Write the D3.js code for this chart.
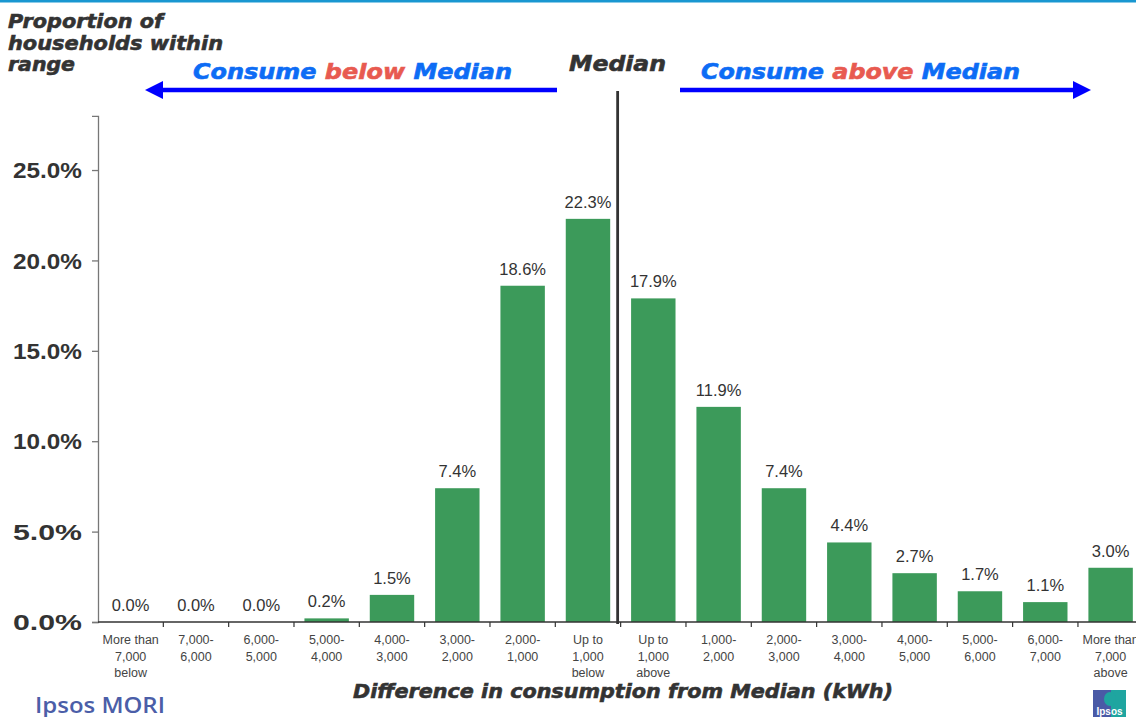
<!DOCTYPE html>
<html>
<head>
<meta charset="utf-8">
<script src="https://cdn.jsdelivr.net/npm/d3@7"></script>
<style>
  html, body { margin: 0; padding: 0; background: #fff; }
  svg { display: block; }
</style>
</head>
<body>
<svg id="chart" width="1136" height="717"></svg>
<script>
// Household electricity consumption relative to the median, grouped in 1,000 kWh bands
const categories = [
  "More than|7,000|below", "7,000-|6,000", "6,000-|5,000", "5,000-|4,000",
  "4,000-|3,000", "3,000-|2,000", "2,000-|1,000", "Up to|1,000|below",
  "Up to|1,000|above", "1,000-|2,000", "2,000-|3,000", "3,000-|4,000",
  "4,000-|5,000", "5,000-|6,000", "6,000-|7,000", "More than|7,000|above"
];
const shares = [0.0, 0.0, 0.0, 0.2, 1.5, 7.4, 18.6, 22.3, 17.9, 11.9, 7.4, 4.4, 2.7, 1.7, 1.1, 3.0];
const yTicks = [0, 5, 10, 15, 20, 25];

const svg = d3.select("#chart");
const W = 1136, H = 717;

const left = 98, step = 65.33, baseY = 622, topY = 115.8;
const x = d3.scaleBand().domain(categories).range([left, left + step * categories.length]);
const y = d3.scaleLinear().domain([0, 28]).range([baseY, topY]);

const heavy = "'DejaVu Sans', sans-serif";
const plain = "'Liberation Sans', Arial, sans-serif";

// heavy italic caption text, stretched to a set width
function heavyText(sel, size, color, width) {
  sel.attr("font-family", heavy).attr("font-weight", "bold").attr("font-style", "italic")
    .attr("font-size", size).attr("fill", color)
    .attr("stroke", color).attr("stroke-width", 0.6).attr("paint-order", "stroke");
  if (width) sel.attr("textLength", width).attr("lengthAdjust", "spacingAndGlyphs");
  return sel;
}

// top rule
svg.append("rect").attr("x", 0).attr("y", 0).attr("width", W).attr("height", 2.5).attr("fill", "#1997d1");

// y axis
const yAxis = svg.append("g")
  .attr("transform", `translate(${left},0)`)
  .call(d3.axisLeft(y).tickValues(yTicks).tickSize(6).tickPadding(10)
    .tickFormat(v => d3.format(".1%")(v / 100)));
yAxis.select(".domain").attr("stroke", "#777").attr("stroke-width", 1.3);
yAxis.selectAll(".tick line").attr("stroke", "#777").attr("stroke-width", 1.3);
yAxis.selectAll(".tick text")
  .attr("fill", "#333").attr("font-family", plain).attr("font-weight", "bold")
  .attr("font-size", 22).attr("dy", "0.35em")
  .attr("textLength", 69).attr("lengthAdjust", "spacingAndGlyphs");

// bars
const inset = 0.16;
svg.append("g").selectAll("rect").data(shares).join("rect")
  .attr("x", (d, i) => x(categories[i]) + x.bandwidth() * inset)
  .attr("width", x.bandwidth() * (1 - 2 * inset))
  .attr("y", d => y(d))
  .attr("height", d => baseY - y(d))
  .attr("fill", "#3c9a5a");

// value labels
svg.append("g").selectAll("text").data(shares).join("text")
  .attr("x", (d, i) => x(categories[i]) + x.bandwidth() / 2)
  .attr("y", d => y(d) - 11)
  .attr("text-anchor", "middle")
  .attr("font-family", plain).attr("font-size", 16.5).attr("fill", "#333")
  .text(d => d3.format(".1f")(d) + "%");

// x axis line with boundary ticks
const xAxisG = svg.append("g");
xAxisG.append("line").attr("x1", left).attr("x2", W).attr("y1", baseY).attr("y2", baseY)
  .attr("stroke", "#333").attr("stroke-width", 1.5);
xAxisG.selectAll("line.tk").data(categories.slice(1)).join("line").attr("class", "tk")
  .attr("x1", c => x(c)).attr("x2", c => x(c))
  .attr("y1", baseY).attr("y2", baseY + 5)
  .attr("stroke", "#333").attr("stroke-width", 1.2);

// category labels
const catText = svg.append("g").selectAll("text").data(categories).join("text")
  .attr("text-anchor", "middle")
  .attr("font-family", plain).attr("font-size", 12.5).attr("fill", "#444");
catText.each(function (c) {
  const cx = x(c) + x.bandwidth() / 2;
  d3.select(this).selectAll("tspan").data(c.split("|")).join("tspan")
    .attr("x", cx).attr("y", (l, j) => 644 + j * 16.5).text(l => l);
});

// median divider
const medX = x(categories[8]) - 3;
svg.append("line").attr("x1", medX).attr("x2", medX).attr("y1", 91).attr("y2", baseY + 2)
  .attr("stroke", "#333").attr("stroke-width", 2.8);

// axis titles
const yTitle = [["Proportion of", 155], ["households within", 215], ["range", 67]];
yTitle.forEach(([line, w], i) => {
  heavyText(svg.append("text").attr("x", 8).attr("y", 28 + i * 21.5), 19.5, "#333", w).text(line);
});

heavyText(svg.append("text").attr("x", 353).attr("y", 697.5), 19.5, "#333", 540)
  .text("Difference in consumption from Median (kWh)");

heavyText(svg.append("text").attr("x", 569).attr("y", 71), 21.5, "#333", 97).text("Median");

// direction captions
function caption(x0, word) {
  const t = svg.append("text").attr("x", x0).attr("y", 79)
    .attr("font-family", heavy).attr("font-weight", "bold").attr("font-style", "italic")
    .attr("font-size", 21).attr("stroke-width", 0.6).attr("paint-order", "stroke")
    .attr("textLength", 319).attr("lengthAdjust", "spacingAndGlyphs");
  t.append("tspan").attr("fill", "#0d6cf5").attr("stroke", "#0d6cf5").text("Consume ");
  t.append("tspan").attr("fill", "#e85a50").attr("stroke", "#e85a50").text(word);
  t.append("tspan").attr("fill", "#0d6cf5").attr("stroke", "#0d6cf5").text(" Median");
}
caption(193, "below");
caption(701, "above");

// arrows
const arrowY = 90;
function arrow(x0, x1) {
  const dir = Math.sign(x1 - x0);
  const headLen = 18, half = 9;
  svg.append("line").attr("x1", x0).attr("x2", x1 - dir * headLen).attr("y1", arrowY).attr("y2", arrowY)
    .attr("stroke", "#0000ff").attr("stroke-width", 4.5);
  svg.append("path")
    .attr("d", `M${x1},${arrowY} L${x1 - dir * headLen},${arrowY - half} L${x1 - dir * headLen},${arrowY + half} Z`)
    .attr("fill", "#0000ff");
}
arrow(557, 145);
arrow(680, 1091);

// footer branding
svg.append("text").attr("x", 35).attr("y", 713)
  .attr("font-family", "'Open Sans', sans-serif").attr("font-weight", 600)
  .attr("font-size", 22).attr("fill", "#4b5ea8")
  .attr("textLength", 130).attr("lengthAdjust", "spacingAndGlyphs")
  .text("Ipsos MORI");

const logo = svg.append("g").attr("transform", "translate(1093,690)");
logo.append("rect").attr("width", 33).attr("height", 27).attr("fill", "#4a5aa6");
logo.append("rect").attr("x", 18).attr("width", 15).attr("height", 27).attr("fill", "#1fa5a0");
logo.append("ellipse").attr("cx", 17).attr("cy", 9).attr("rx", 6).attr("ry", 7).attr("fill", "#1fa5a0");
logo.append("text").attr("x", 16.5).attr("y", 25).attr("text-anchor", "middle")
  .attr("font-family", plain).attr("font-weight", "bold").attr("font-size", 10).attr("fill", "#fff")
  .text("Ipsos");
</script>
</body>
</html>
